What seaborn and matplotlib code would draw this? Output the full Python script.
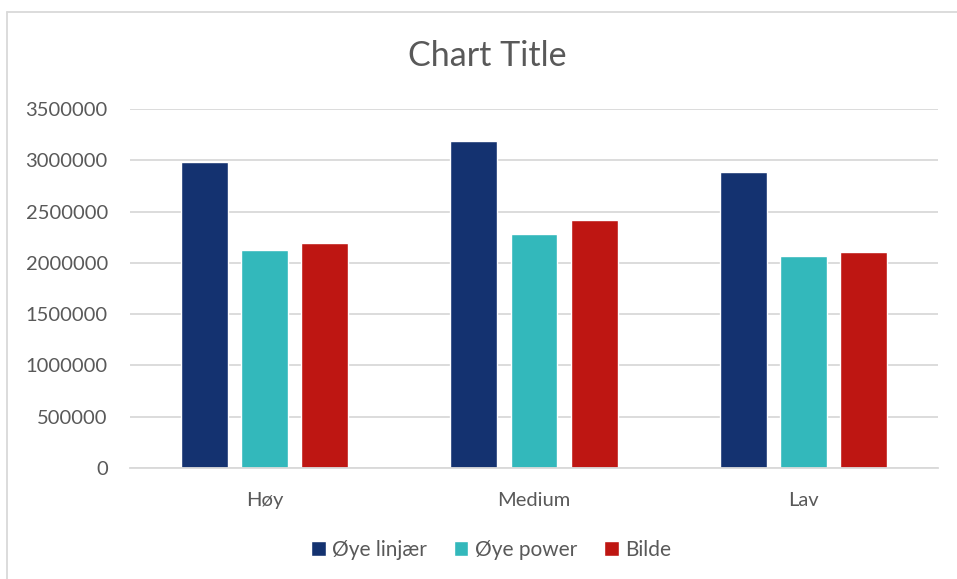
import pandas as pd
import seaborn as sns
import matplotlib.pyplot as plt
from matplotlib.lines import Line2D

categories = ["Høy", "Medium", "Lav"]
series = ["Øye linjær", "Øye power", "Bilde"]
oye_linjaer = [2988000, 3190000, 2888000]
oye_power = [2122000, 2283000, 2062000]
bilde = [2195000, 2422000, 2107000]
colors = ["#143270", "#33B8BB", "#BE1612"]

df = pd.DataFrame({
    "kategori": categories * 3,
    "serie": [s for s in series for _ in categories],
    "verdi": oye_linjaer + oye_power + bilde,
})

sns.set_style("white")
plt.rcParams["font.family"] = ["Lato", "DejaVu Sans"]
text_col = "#595959"

fig = plt.figure(figsize=(9.57, 5.79), dpi=100)
ax = fig.add_axes([130 / 957, 1 - 468 / 579, (938 - 130) / 957, (468 - 109) / 579])

sns.barplot(data=df, x="kategori", y="verdi", hue="serie", order=categories,
            hue_order=series, palette=colors, width=0.67, gap=0.22,
            saturation=1, ax=ax, legend=True)

ax.set_ylim(0, 3500000)
ax.set_yticks(range(0, 3500001, 500000))
ax.set_yticklabels([str(v) for v in range(0, 3500001, 500000)])
ax.yaxis.grid(True, color="#D9D9D9", linewidth=1.3)
ax.set_axisbelow(True)
for s in ["top", "right", "left"]:
    ax.spines[s].set_visible(False)
ax.spines["bottom"].set_color("#D9D9D9")
ax.spines["bottom"].set_linewidth(1.3)
ax.set_xlabel("")
ax.set_ylabel("")
ax.tick_params(axis="both", length=0, labelsize=14.5, colors=text_col)
ax.tick_params(axis="y", pad=16)
ax.tick_params(axis="x", pad=17)

fig.text(487 / 957, 1 - 56 / 579, "Chart Title", ha="center", va="center",
         fontsize=24.5, color=text_col)

handles, labels = ax.get_legend_handles_labels()
ax.legend_.remove()
leg = fig.legend(handles, labels, loc="center", bbox_to_anchor=(491 / 957, 1 - 550 / 579),
                 ncol=3, frameon=False, fontsize=15, handlelength=0.7, handleheight=0.7,
                 handletextpad=0.3, columnspacing=1.3)
for t in leg.get_texts():
    t.set_color(text_col)

# chart-area frame (left and top edges visible)
fig.add_artist(Line2D([6.5 / 957, 6.5 / 957], [0, 1 - 12 / 579], transform=fig.transFigure,
                      color="#D9D9D9", linewidth=1.3))
fig.add_artist(Line2D([6.5 / 957, 1], [1 - 12 / 579, 1 - 12 / 579], transform=fig.transFigure,
                      color="#D9D9D9", linewidth=1.3))

plt.savefig("out.png", dpi=100)
